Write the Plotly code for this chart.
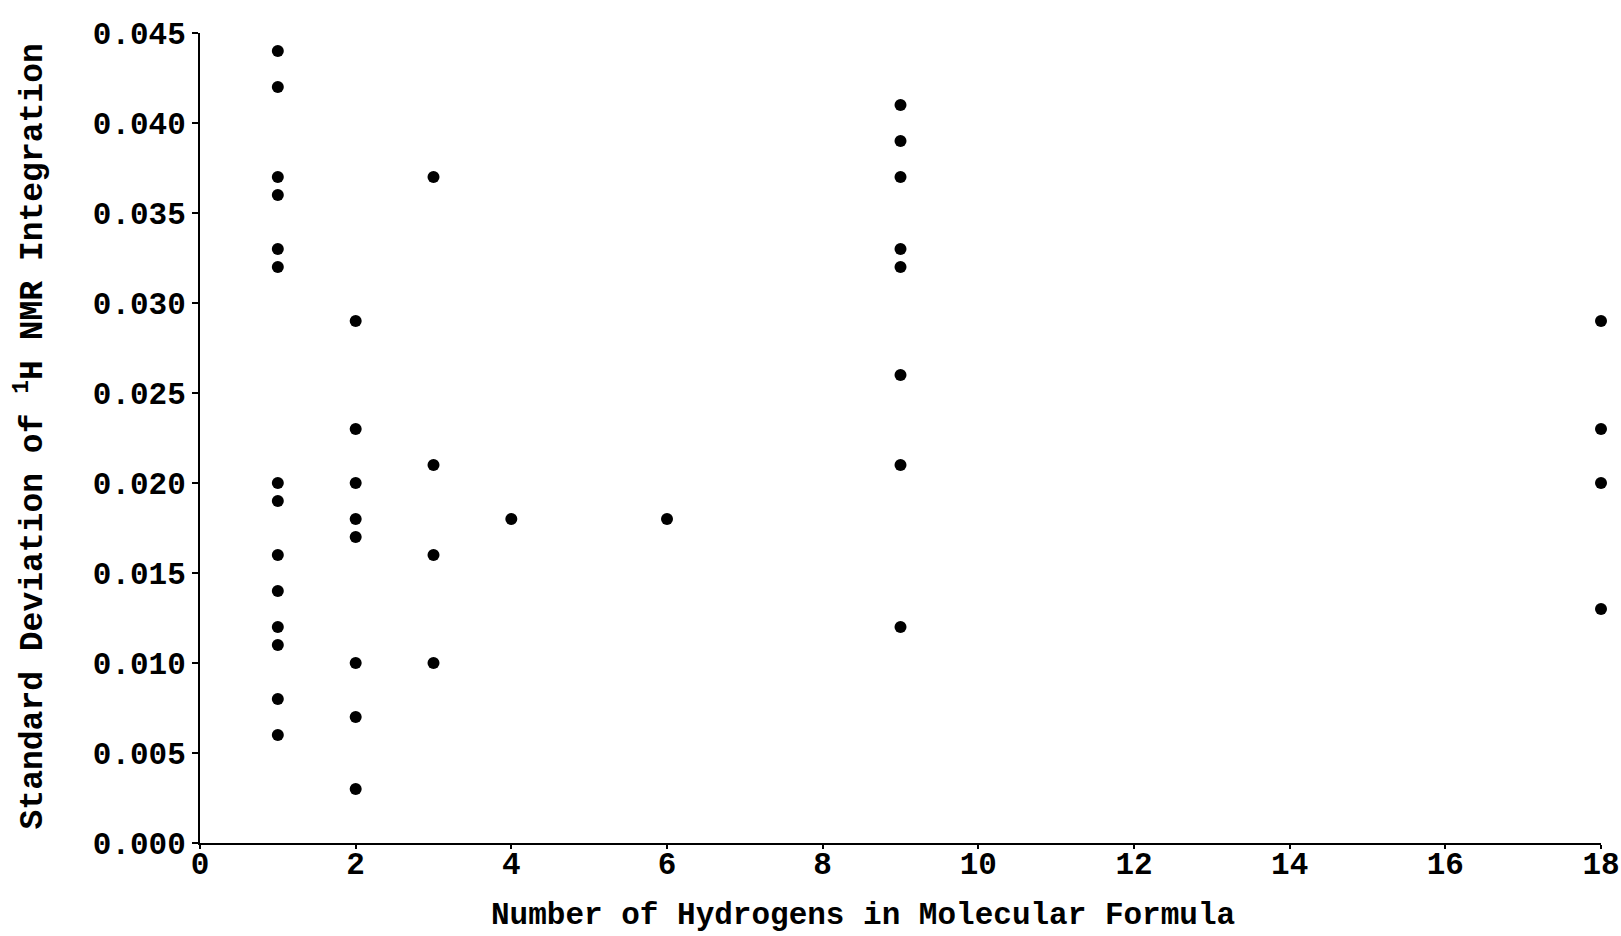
import plotly.graph_objects as go

# Data: number of hydrogens vs standard deviation
h_counts = [1]*14 + [2]*8 + [3]*4 + [4] + [6] + [9]*8 + [18]*4
std_dev = [
    0.044, 0.042, 0.037, 0.036, 0.033, 0.032, 0.020, 0.019, 0.016, 0.014, 0.012, 0.011, 0.008, 0.006,
    0.029, 0.023, 0.020, 0.018, 0.017, 0.010, 0.007, 0.003,
    0.037, 0.021, 0.016, 0.010,
    0.018,
    0.018,
    0.041, 0.039, 0.037, 0.033, 0.032, 0.026, 0.021, 0.012,
    0.029, 0.023, 0.020, 0.013,
]
x_ticks = [0, 2, 4, 6, 8, 10, 12, 14, 16, 18]
y_ticks = [0.000, 0.005, 0.010, 0.015, 0.020, 0.025, 0.030, 0.035, 0.040, 0.045]
x_title = "Number of Hydrogens in Molecular Formula"
y_title = "Standard Deviation of <sup>1</sup>H NMR Integration"

FONT = "Liberation Mono, Courier New, monospace"

fig = go.Figure(go.Scatter(
    x=h_counts, y=std_dev, mode="markers",
    marker=dict(color="black", size=12),
    cliponaxis=False,
    showlegend=False,
))

fig.update_layout(
    width=1621, height=936,
    margin=dict(l=200, r=20, t=33, b=93),
    paper_bgcolor="white", plot_bgcolor="white",
    font=dict(family=FONT, color="black", size=31, weight="bold"),
    xaxis=dict(
        range=[0, 18], tickvals=x_ticks, ticktext=[str(v) for v in x_ticks],
        showline=True, linecolor="black", linewidth=2, ticks="outside",
        tickwidth=1.5, ticklen=4, tickcolor="black", showgrid=False, zeroline=False,
        automargin=False, ticklabelstandoff=-12,
    ),
    yaxis=dict(
        range=[0, 0.045], tickvals=y_ticks, tickformat=".3f",
        showline=True, linecolor="black", linewidth=2, ticks="outside",
        tickwidth=1.5, ticklen=6, tickcolor="black", showgrid=False, zeroline=False,
        automargin=False,
    ),
    annotations=[
        dict(text=x_title, xref="paper", yref="paper", x=0.473, y=-0.089,
             xanchor="center", yanchor="middle", showarrow=False,
             font=dict(family=FONT, size=31, weight="bold")),
        dict(text=y_title, xref="paper", yref="paper", x=-0.1213, y=0.502,
             xanchor="center", yanchor="middle", showarrow=False, textangle=-90,
             font=dict(family=FONT, size=33, weight="bold")),
    ],
)

fig.write_html(
    "out.html",
    config={"displayModeBar": False},
    post_script="document.body.style.margin='0';document.body.style.overflow='hidden';",
)
